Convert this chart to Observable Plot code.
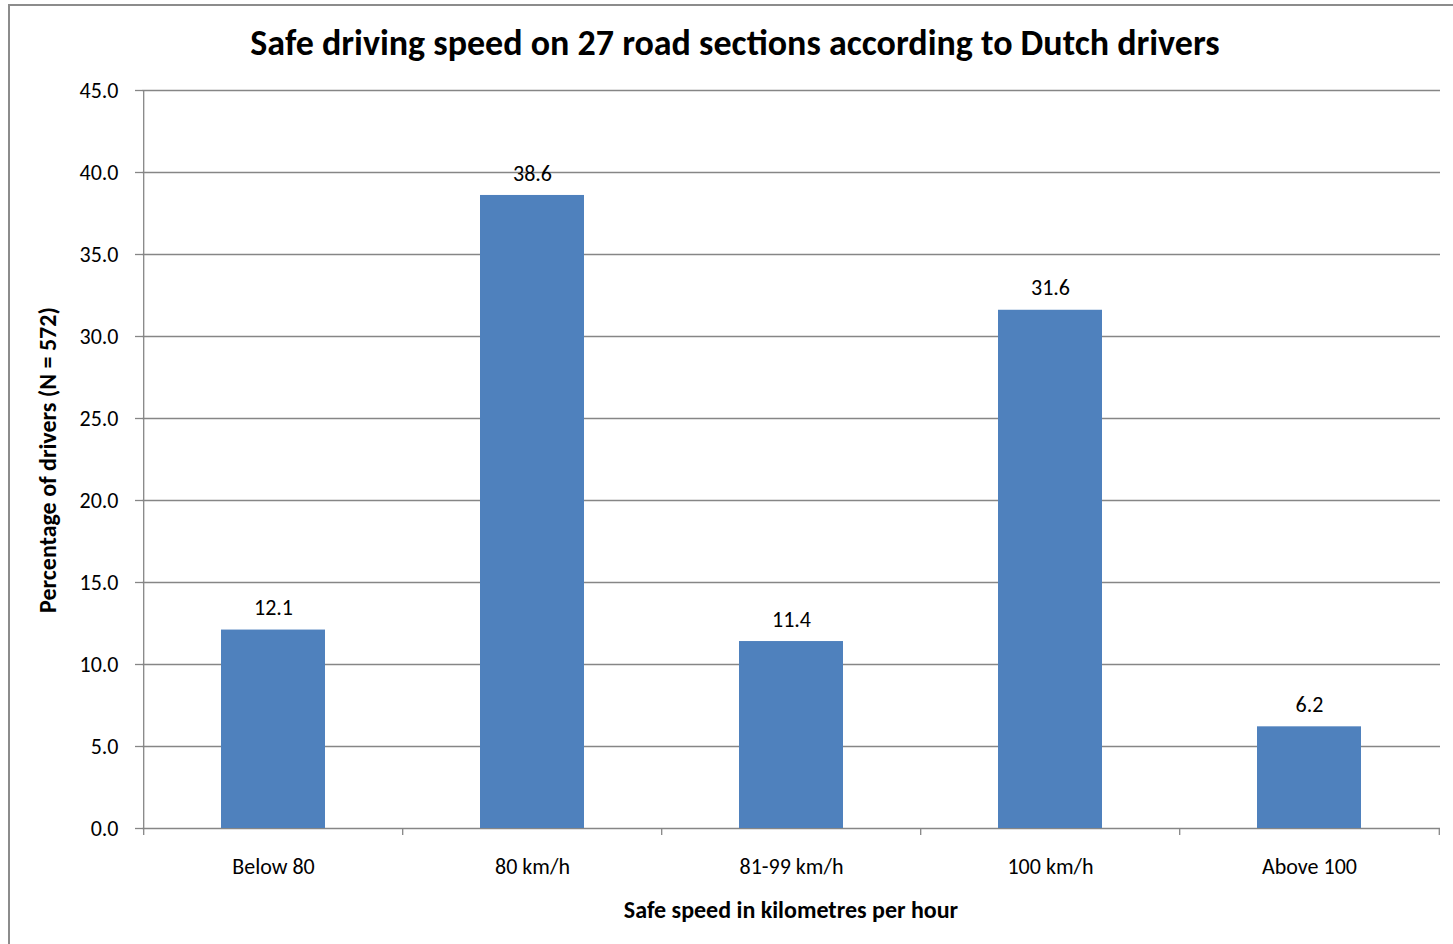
<!DOCTYPE html>
<html>
<head>
<meta charset="utf-8">
<script src="https://cdn.jsdelivr.net/npm/d3@7"></script>
<script src="https://cdn.jsdelivr.net/npm/@observablehq/plot@0.6"></script>
<style>
  html, body { margin: 0; padding: 0; background: #fff; overflow: hidden; }
  #wrap { position: relative; width: 1453px; height: 944px; font-family: Carlito, Lato, "Open Sans", sans-serif; }
  #border { position: absolute; left: 8px; top: 4px; width: 1460px; height: 960px; border: 2px solid #8c8c8c; box-sizing: border-box; }
  #title { position: absolute; left: 0; width: 1470px; top: 21px; text-align: center; font-weight: bold; font-size: 36px; color: #000; white-space: nowrap; line-height: 44px; }
  #xlabel { position: absolute; left: 142px; width: 1298px; top: 896px; text-align: center; font-weight: bold; font-size: 24px; line-height: 28px; color: #000; }
  #ylabel { position: absolute; left: 48px; top: 460px; transform: translate(-50%, -50%) rotate(-90deg); font-weight: bold; font-size: 24px; line-height: 28px; white-space: nowrap; color: #000; }
  #chart { position: absolute; left: 0; top: 0; }
</style>
</head>
<body>
<div id="wrap">
  <div id="border"></div>
  <div id="chart"></div>
  <div id="title">Safe driving speed on 27 road sections according to Dutch drivers</div>
  <div id="ylabel">Percentage of drivers (N = 572)</div>
  <div id="xlabel">Safe speed in kilometres per hour</div>
</div>
<script>
const categories = ["Below 80", "80 km/h", "81-99 km/h", "100 km/h", "Above 100"];
const percentages = [12.1, 38.6, 11.4, 31.6, 6.2];
const yTicks = [0, 5, 10, 15, 20, 25, 30, 35, 40, 45];

const data = categories.map((c, i) => ({category: c, value: percentages[i]}));

const W = 1453, H = 944;
const mL = 142, mR = 13, mT = 90, mB = 116;
const step = (W - mL - mR) / categories.length;
const grid = "#868686";
const font = "Carlito, Lato, 'Open Sans', sans-serif";

const chart = Plot.plot({
  width: W,
  height: H,
  marginLeft: mL,
  marginRight: mR,
  marginTop: mT,
  marginBottom: mB,
  style: {fontFamily: font, fontSize: "22px", color: "#000", background: "transparent", overflow: "visible"},
  x: {domain: categories, paddingInner: 0.6, paddingOuter: 0.3, label: null},
  y: {domain: [0, 45], label: null},
  marks: [
    Plot.ruleY(yTicks, {stroke: grid, strokeWidth: 1.3, strokeOpacity: 1}),
    Plot.ruleX([categories[0]], {y1: 45, y2: 0, dx: -step / 2, stroke: grid, strokeWidth: 1.3, insetBottom: -7}),
    Plot.ruleX(categories.slice(1), {y1: 0, y2: 0, dx: -step / 2, stroke: grid, strokeWidth: 1.3, insetBottom: -7}),
    Plot.ruleX([categories[categories.length - 1]], {y1: 0, y2: 0, dx: step / 2, stroke: grid, strokeWidth: 1.3, insetBottom: -7}),
    Plot.barY(data, {x: "category", y: "value", fill: "#4F81BD"}),
    Plot.text(data, {x: "category", y: "value", text: d => d.value.toFixed(1), dy: -22, fontSize: 22, fill: "#000"}),
    Plot.axisY({ticks: yTicks, tickFormat: d => d.toFixed(1), tickSize: 7, tickPadding: 17, stroke: grid, strokeOpacity: 1, strokeWidth: 1.3, fontSize: 22, fill: "#000"}),
    Plot.axisX({tickSize: 0, tickPadding: 30, fontSize: 22, fill: "#000"})
  ]
});
document.getElementById("chart").appendChild(chart);
</script>
</body>
</html>
